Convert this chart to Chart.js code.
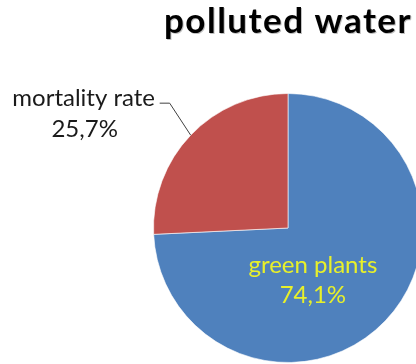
<!DOCTYPE html>
<html>
<head>
<meta charset="utf-8">
<script src="https://cdn.jsdelivr.net/npm/chart.js@4.4.1/dist/chart.umd.min.js"></script>
<style>
  html, body { margin: 0; padding: 0; background: #fff; overflow: hidden; width: 416px; height: 364px; }
  #wrap { position: absolute; left: 0; top: 0; width: 576px; height: 456px; }
</style>
</head>
<body>
<div id="wrap"><canvas id="pollutedWaterChart"></canvas></div>
<script>
const chartTitle = "polluted water";
const categories = ["green plants", "mortality rate"];
const values = [74.1, 25.7];
const valueLabels = ["74,1%", "25,7%"];
const sliceColors = ["#4f81bd", "#c0504d"];

// draws the title and the slice labels (Excel style)
const labelPlugin = {
  id: "sliceLabels",
  afterDraw(chart) {
    const ctx = chart.ctx;
    const arcs = chart.getDatasetMeta(0).data;
    ctx.save();

    // title
    ctx.font = "bold 35px Lato";
    ctx.letterSpacing = "1.5px";
    ctx.textAlign = "center";
    ctx.textBaseline = "alphabetic";
    ctx.fillStyle = "rgba(0,0,0,0.25)";
    ctx.fillText(chartTitle, 289, 34);
    ctx.fillStyle = "#000";
    ctx.fillText(chartTitle, 288, 33);
    ctx.letterSpacing = "0px";

    ctx.font = "24px Lato";
    ctx.textBaseline = "middle";

    // inside label for the big slice
    const a0 = arcs[0];
    const r0 = a0.outerRadius;
    ctx.fillStyle = "#e8f02a";
    ctx.fillText(categories[0], a0.x + r0 * 0.185, a0.y + r0 * 0.28);
    ctx.fillText(valueLabels[0], a0.x + r0 * 0.185, a0.y + r0 * 0.5);

    // outside label with leader line for the small slice
    const a1 = arcs[1];
    const mid = (a1.startAngle + a1.endAngle) / 2;
    const ex = a1.x + Math.cos(mid) * a1.outerRadius;
    const ey = a1.y + Math.sin(mid) * a1.outerRadius;
    ctx.strokeStyle = "#404040";
    ctx.lineWidth = 1;
    ctx.beginPath();
    ctx.moveTo(ex, ey);
    ctx.lineTo(ex - 21, ey - 32);
    ctx.lineTo(ex - 31, ey - 32);
    ctx.stroke();
    ctx.fillStyle = "#1a1a1a";
    ctx.fillText(categories[1], ex - 107, ey - 37);
    ctx.fillText(valueLabels[1], ex - 106, ey - 6);

    ctx.restore();
  }
};

const ctx = document.getElementById("pollutedWaterChart").getContext("2d");
new Chart(ctx, {
  type: "pie",
  data: {
    labels: categories,
    datasets: [{
      data: values,
      backgroundColor: sliceColors,
      borderColor: "rgba(255,255,255,0.6)",
      borderWidth: 1
    }]
  },
  options: {
    responsive: true,
    maintainAspectRatio: false,
    animation: false,
    layout: { padding: { left: 153, right: 153, top: 93, bottom: 93 } },
    plugins: {
      legend: { display: false },
      title: { display: false },
      tooltip: { enabled: false }
    }
  },
  plugins: [labelPlugin]
});
</script>
</body>
</html>
